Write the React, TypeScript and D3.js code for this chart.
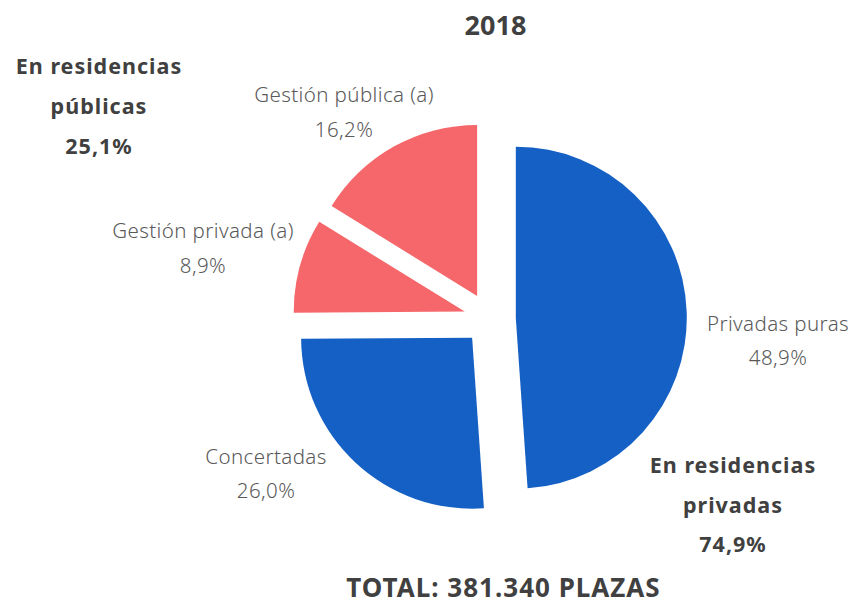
import React from "react";
import * as d3 from "d3";

const categories = ["Privadas puras", "Concertadas", "Gestión privada (a)", "Gestión pública (a)"];
const values = [48.9, 26.0, 8.9, 16.2];
const valueLabels = ["48,9%", "26,0%", "8,9%", "16,2%"];
const sliceColors = ["#1560C4", "#1560C4", "#F5676A", "#F5676A"];

const title = "2018";
const groupPublic = ["En residencias", "públicas", "25,1%"];
const groupPrivate = ["En residencias", "privadas", "74,9%"];
const totalText = "TOTAL: 381.340 PLAZAS";

// layout (label anchors: centre x, baseline of first line)
const labelAnchors: [number, number][] = [
  [778, 330.7],
  [266, 463.5],
  [203, 238.3],
  [344, 102.3],
];

const W = 853;
const H = 600;
const CX = 489.8;
const CY = 318.6;
const R = 171;
const EXPLODE = 26;

const FONT = "'Noto Sans', 'DejaVu Sans', sans-serif";

export default function App() {
  const pie = d3
    .pie<number>()
    .sort(null)
    .value((d) => d)
    .startAngle(0)
    .endAngle(2 * Math.PI);
  const arcs = pie(values);
  const arcGen = d3.arc<d3.PieArcDatum<number>>().innerRadius(0).outerRadius(R);

  return (
    <svg
      width={W}
      height={H}
      style={{ position: "absolute", left: 0, top: 0, background: "#fff" }}
      fontFamily={FONT}
    >
      <g transform={`translate(${CX},${CY})`}>
        {arcs.map((a, i) => {
          const mid = (a.startAngle + a.endAngle) / 2;
          const dx = Math.sin(mid) * EXPLODE;
          const dy = -Math.cos(mid) * EXPLODE;
          return (
            <path
              key={categories[i]}
              d={arcGen(a) || ""}
              fill={sliceColors[i]}
              transform={`translate(${dx},${dy})`}
            />
          );
        })}
      </g>

      {categories.map((c, i) => (
        <g
          key={"lbl" + c}
          fill="#595959"
          fontSize={20.5}
          fontWeight={300}
          textAnchor="middle"
          letterSpacing={0.4}
        >
          <text x={labelAnchors[i][0]} y={labelAnchors[i][1]}>
            {c}
          </text>
          <text x={labelAnchors[i][0]} y={labelAnchors[i][1] + 34.5}>
            {valueLabels[i]}
          </text>
        </g>
      ))}

      <text x={495.5} y={35} textAnchor="middle" fontSize={27} fontWeight={700} fill="#404040">
        {title}
      </text>

      <g fill="#404040" fontSize={21.5} fontWeight={700} textAnchor="middle" letterSpacing={1}>
        {groupPublic.map((t, i) => (
          <text key={"pub" + i} x={99} y={73.5 + i * 40}>
            {t}
          </text>
        ))}
        {groupPrivate.map((t, i) => (
          <text key={"priv" + i} x={733} y={473.3 + i * 39.2}>
            {t}
          </text>
        ))}
      </g>

      <text
        x={503.5}
        y={596.5}
        textAnchor="middle"
        fontSize={26}
        fontWeight={700}
        fill="#404040"
        letterSpacing={1}
      >
        {totalText}
      </text>
    </svg>
  );
}
